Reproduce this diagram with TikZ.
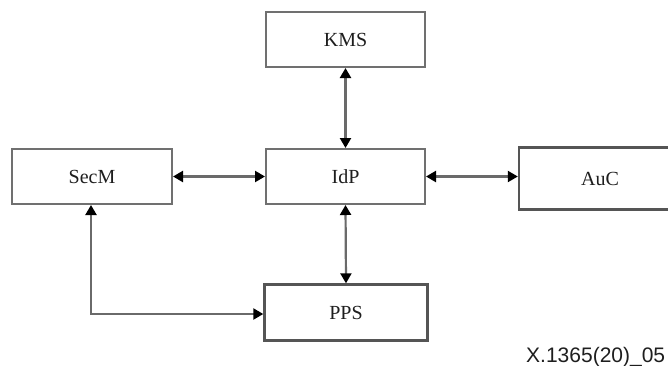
\documentclass[tikz,border=0pt]{standalone}
\usepackage{fontspec}
\setmainfont{Liberation Serif}
\newfontfamily\labelfont{Liberation Sans}
\usetikzlibrary{arrows.meta}
\definecolor{boxgray}{HTML}{707070}
\definecolor{darkbox}{HTML}{555555}
\definecolor{linegray}{HTML}{6A6A6A}
\definecolor{txt}{HTML}{1E1E1E}
\begin{document}
\begin{tikzpicture}[x=1pt,y=-1pt,
  blk/.style={draw=boxgray,line width=2pt,rectangle,inner sep=0pt,text=txt,
    font=\fontsize{20}{24}\selectfont},
  blkdark/.style={blk,draw=darkbox,line width=2.4pt},
  conn/.style={draw=linegray,line width=2.2pt,
    {Triangle[length=10pt,width=11pt,color=black]}-{Triangle[length=10pt,width=11pt,color=black]},
    shorten <=0pt,shorten >=0pt}]
\useasboundingbox (0,0) rectangle (668,365);
\clip (0,0) rectangle (668,365);
\node[blk,minimum width=159pt,minimum height=55pt] (kms) at (345.5,39.5) {KMS};
\node[blk,minimum width=159pt,minimum height=55pt] (idp) at (345.5,176.5) {IdP};
\node[blk,minimum width=160pt,minimum height=55pt] (secm) at (92,176.5) {SecM};
\node[blkdark,minimum width=162pt,minimum height=62pt] (auc) at (600,178.5) {AuC};
\node[blkdark,minimum width=163pt,minimum height=56pt] (pps) at (346,312.5) {PPS};
\node[anchor=base west,inner sep=0pt,text=txt,font=\labelfont\fontsize{21}{24}\selectfont] (lbl) at (526,362) {X.1365(20)\_05};
\draw[conn] (kms.south) -- (idp.north);
\draw[conn] (idp.south) -- (pps.north);
\draw[conn] (secm.east) -- (idp.west);
\draw[conn] (idp.east) -- (auc.west |- idp.east);
\coordinate (corner) at (91,314);
\draw[conn] (secm.south -| corner) -- (corner) -- (pps.west |- corner);
\end{tikzpicture}
\end{document}
